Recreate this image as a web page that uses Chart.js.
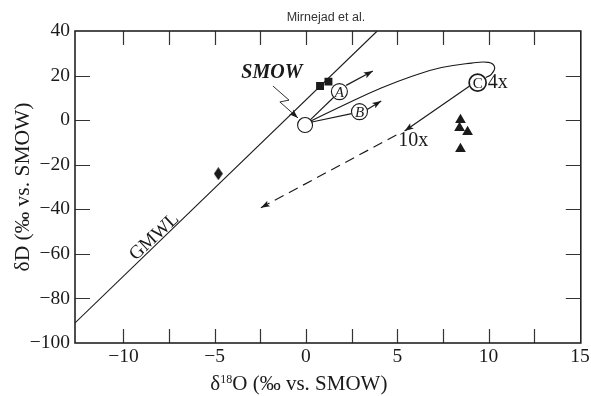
<!DOCTYPE html>
<html>
<head>
<meta charset="utf-8">
<script src="https://cdn.jsdelivr.net/npm/chart.js@4/dist/chart.umd.min.js"></script>
<style>
  html, body { margin: 0; padding: 0; background: #fff; }
  #wrap { width: 591px; height: 396px; }
</style>
</head>
<body>
<div id="wrap"><canvas id="c" width="591" height="396"></canvas></div>
<script>
// ---- tick values ----
const xTickValues = [-10, -7.5, -5, -2.5, 0, 2.5, 5, 7.5, 10, 12.5, 15];
const yTickValues = [-100, -80, -60, -40, -20, 0, 20, 40];

// ---- Global Meteoric Water Line (end points) ----
const gmwlX = [-12.65, 3.9];
const gmwlY = [-91, 40];

// ---- samples ----
const squaresX = [0.77, 1.23];
const squaresY = [15.3, 17.3];
const diamondX = [-4.8];
const diamondY = [-24];
const trianglesX = [8.46, 8.41, 8.85, 8.46];
const trianglesY = [0.1, -3.5, -5.3, -12.9];

// ---- reference waters: SMOW and end-members A, B, C ----
const circleNames = ['', 'A', 'B', 'C'];
const circleX = [-0.05, 1.83, 2.93, 9.40];
const circleY = [-2.2, 12.8, 3.8, 16.8];

// ---- evaporation loop from SMOW to C ----
const loopX = [0.27, 2.20, 4.12, 5.77, 7.42, 9.07, 10.0, 10.33, 10.16, 9.84];
const loopY = [-0.38, 7.25, 14.4, 19.6, 23.6, 25.6, 25.9, 23.8, 20.7, 19.1];

// ---- connecting lines and trend arrows ----
const smowToAX = [0.22, 1.52],   smowToAY = [0.03, 10.26];
const trendAX = [2.20, 3.66],    trendAY = [15.6, 22.0];
const smowToBX = [0.32, 2.50],   smowToBY = [-0.81, 2.94];
const trendBX = [3.35, 4.12],    trendBY = [4.8, 8.6];
const cTo10xX = [9.16, 5.40],    cTo10xY = [16.4, -4.86];
const dilutionX = [4.95, -2.47], dilutionY = [-6.66, -39.3];
const pointerX = [-1.81, -0.93, -1.43, -0.44];
const pointerY = [15.3, 9.0, 8.15, 1.0];

// ---- text annotations ----
const noteText = ['SMOW', '4x', '10x', 'GMWL'];
const noteX = [-1.87, 9.95, 5.05, -8.30];
const noteY = [21.4, 16.7, -9.3, -52.4];

const SERIF = '"Liberation Serif", "DejaVu Serif", serif';
const SANS = '"Liberation Sans", Arial, sans-serif';
const INK = '#1a1a1a';

const zip = (xs, ys) => xs.map((x, i) => ({ x, y: ys[i] }));
const fmt = v => (v < 0 ? '\u2212' + Math.abs(v) : String(v));

// tall diamond marker
function diamondMarker(w, h) {
  const c = document.createElement('canvas');
  c.width = w; c.height = h;
  const g = c.getContext('2d');
  g.fillStyle = INK;
  g.beginPath();
  g.moveTo(w / 2, 0); g.lineTo(w, h / 2); g.lineTo(w / 2, h); g.lineTo(0, h / 2);
  g.closePath(); g.fill();
  return c;
}

function lineSet(xs, ys, extra) {
  return Object.assign({
    type: 'scatter',
    data: zip(xs, ys),
    showLine: true,
    borderColor: INK,
    borderWidth: 1.15,
    pointRadius: 0,
    fill: false,
    order: 5
  }, extra || {});
}

const datasets = [
  // reference water circles (drawn on top)
  {
    type: 'scatter',
    data: zip(circleX, circleY),
    pointStyle: 'circle',
    pointRadius: [7.5, 8, 8, 8.5],
    pointBackgroundColor: '#fff',
    pointBorderColor: INK,
    pointBorderWidth: [1.1, 1.1, 1.1, 1.7],
    order: 0
  },
  // samples
  {
    type: 'scatter', data: zip(squaresX, squaresY),
    pointStyle: 'rect', pointRadius: 5.6,
    pointBackgroundColor: INK, pointBorderColor: INK, pointBorderWidth: 0, order: 1
  },
  {
    type: 'scatter', data: zip(diamondX, diamondY),
    pointStyle: diamondMarker(9, 13), pointRadius: 6,
    pointBackgroundColor: INK, pointBorderColor: INK, pointBorderWidth: 0, order: 1
  },
  {
    type: 'scatter', data: zip(trianglesX, trianglesY),
    pointStyle: 'triangle', pointRadius: 6.2,
    pointBackgroundColor: INK, pointBorderColor: INK, pointBorderWidth: 0, order: 1
  },
  lineSet(gmwlX, gmwlY),
  lineSet(loopX, loopY, { tension: 0.45 }),
  lineSet(smowToAX, smowToAY),
  lineSet(smowToBX, smowToBY),
  lineSet(trendAX, trendAY, { arrowHead: true }),
  lineSet(trendBX, trendBY, { arrowHead: true }),
  lineSet(cTo10xX, cTo10xY, { arrowHead: true }),
  lineSet(dilutionX, dilutionY, { arrowHead: true, borderDash: [10, 6] }),
  lineSet(pointerX, pointerY, { arrowHead: true, borderWidth: 0.9 })
];

// arrow heads at the end of flagged lines
const arrowHeads = {
  id: 'arrowHeads',
  afterDatasetsDraw(chart) {
    const ctx = chart.ctx;
    chart.data.datasets.forEach((ds, i) => {
      if (!ds.arrowHead) return;
      const pts = chart.getDatasetMeta(i).data;
      const a = pts[pts.length - 2], b = pts[pts.length - 1];
      const ang = Math.atan2(b.y - a.y, b.x - a.x);
      const L = 9, W = 3.2;
      ctx.save();
      ctx.translate(b.x, b.y);
      ctx.rotate(ang);
      ctx.beginPath();
      ctx.moveTo(0, 0);
      ctx.lineTo(-L, -W);
      ctx.lineTo(-L + 2, 0);
      ctx.lineTo(-L, W);
      ctx.closePath();
      ctx.fillStyle = INK;
      ctx.fill();
      ctx.restore();
    });
  }
};

// frame, inward ticks, letters, notes and the x-axis title
const decorations = {
  id: 'decorations',
  afterDatasetsDraw(chart) {
    const { ctx, chartArea: ca, scales: { x, y } } = chart;
    ctx.save();

    // circle letters
    const circMeta = chart.getDatasetMeta(0).data;
    circleNames.forEach((name, i) => {
      if (!name) return;
      const p = circMeta[i];
      ctx.font = (name === 'C' ? '' : 'italic ') + '15px ' + SERIF;
      ctx.fillStyle = INK;
      ctx.textAlign = 'center';
      ctx.textBaseline = 'middle';
      ctx.fillText(name, p.x, p.y + 1);
    });

    // notes
    ctx.fillStyle = INK;
    noteText.forEach((t, i) => {
      const px = x.getPixelForValue(noteX[i]);
      const py = y.getPixelForValue(noteY[i]);
      ctx.save();
      ctx.translate(px, py);
      ctx.textBaseline = 'middle';
      if (t === 'SMOW') {
        ctx.font = 'italic bold 20px ' + SERIF;
        ctx.textAlign = 'center';
      } else if (t === 'GMWL') {
        ctx.rotate(-43 * Math.PI / 180);
        ctx.font = '19px ' + SERIF;
        ctx.textAlign = 'center';
      } else {
        ctx.font = '20px ' + SERIF;
        ctx.textAlign = 'left';
      }
      ctx.fillText(t, 0, 0);
      ctx.restore();
    });

    // inward ticks
    ctx.strokeStyle = '#333';
    ctx.lineWidth = 1.2;
    ctx.beginPath();
    xTickValues.forEach(v => {
      const px = Math.round(x.getPixelForValue(v)) + 0.5;
      if (px <= ca.left + 2 || px >= ca.right - 2) return;
      ctx.moveTo(px, ca.top); ctx.lineTo(px, ca.top + 14);
      ctx.moveTo(px, ca.bottom); ctx.lineTo(px, ca.bottom - 14);
    });
    yTickValues.forEach(v => {
      const py = Math.round(y.getPixelForValue(v)) + 0.5;
      if (py <= ca.top + 2 || py >= ca.bottom - 2) return;
      ctx.moveTo(ca.left, py); ctx.lineTo(ca.left + 15, py);
      ctx.moveTo(ca.right, py); ctx.lineTo(ca.right - 15, py);
    });
    ctx.stroke();

    // frame
    ctx.lineWidth = 1.6;
    ctx.strokeStyle = '#222';
    ctx.strokeRect(ca.left, ca.top, ca.right - ca.left, ca.bottom - ca.top);

    // x-axis title with a raised mass number
    const parts = [
      { t: 'δ', f: '21px ' + SERIF, dy: 0 },
      { t: '18', f: '12px ' + SERIF, dy: -7 },
      { t: 'O (‰ vs. SMOW)', f: '21px ' + SERIF, dy: 0 }
    ];
    let total = 0;
    parts.forEach(p => { ctx.font = p.f; p.w = ctx.measureText(p.t).width; total += p.w; });
    let tx = (ca.left + ca.right) / 2 - 29 - total / 2;
    const ty = 390;
    ctx.fillStyle = INK;
    ctx.textAlign = 'left';
    ctx.textBaseline = 'alphabetic';
    parts.forEach(p => { ctx.font = p.f; ctx.fillText(p.t, tx, ty + p.dy); tx += p.w; });

    // author line above the frame
    ctx.font = '12.5px ' + SANS;
    ctx.fillStyle = '#333';
    ctx.textAlign = 'center';
    ctx.textBaseline = 'middle';
    ctx.fillText('Mirnejad et al.', (ca.left + ca.right) / 2 - 2, 18);

    ctx.restore();
  }
};

new Chart(document.getElementById('c'), {
  type: 'scatter',
  data: { datasets },
  options: {
    responsive: false,
    animation: false,
    devicePixelRatio: 1,
    layout: { padding: { top: 31, right: 8, left: 0, bottom: 0 } },
    plugins: { legend: { display: false }, tooltip: { enabled: false }, title: { display: false } },
    scales: {
      x: {
        type: 'linear',
        min: -12.65,
        max: 15.05,
        afterBuildTicks: s => { s.ticks = xTickValues.map(v => ({ value: v })); },
        afterFit: s => { s.height = 53; s.paddingLeft = 0; s.paddingRight = 0; },
        grid: { display: false, drawTicks: false },
        border: { display: false },
        ticks: {
          autoSkip: false, maxRotation: 0, padding: 2, color: INK,
          font: { family: SERIF, size: 19.5 },
          callback: v => (v % 5 === 0 ? fmt(v) : '')
        },
        title: { display: false }
      },
      y: {
        type: 'linear',
        min: -100,
        max: 40,
        afterBuildTicks: s => { s.ticks = yTickValues.map(v => ({ value: v })); },
        afterFit: s => { s.width = 75; s.paddingTop = 0; s.paddingBottom = 0; },
        grid: { display: false, drawTicks: false },
        border: { display: false },
        ticks: {
          autoSkip: false, padding: 5, color: INK,
          font: { family: SERIF, size: 19.5 },
          callback: v => fmt(v)
        },
        title: {
          display: true, text: 'δD (‰ vs. SMOW)', color: INK,
          font: { family: SERIF, size: 21.5 }, padding: { top: 10, bottom: 0 }
        }
      }
    }
  },
  plugins: [arrowHeads, decorations]
});
</script>
</body>
</html>
